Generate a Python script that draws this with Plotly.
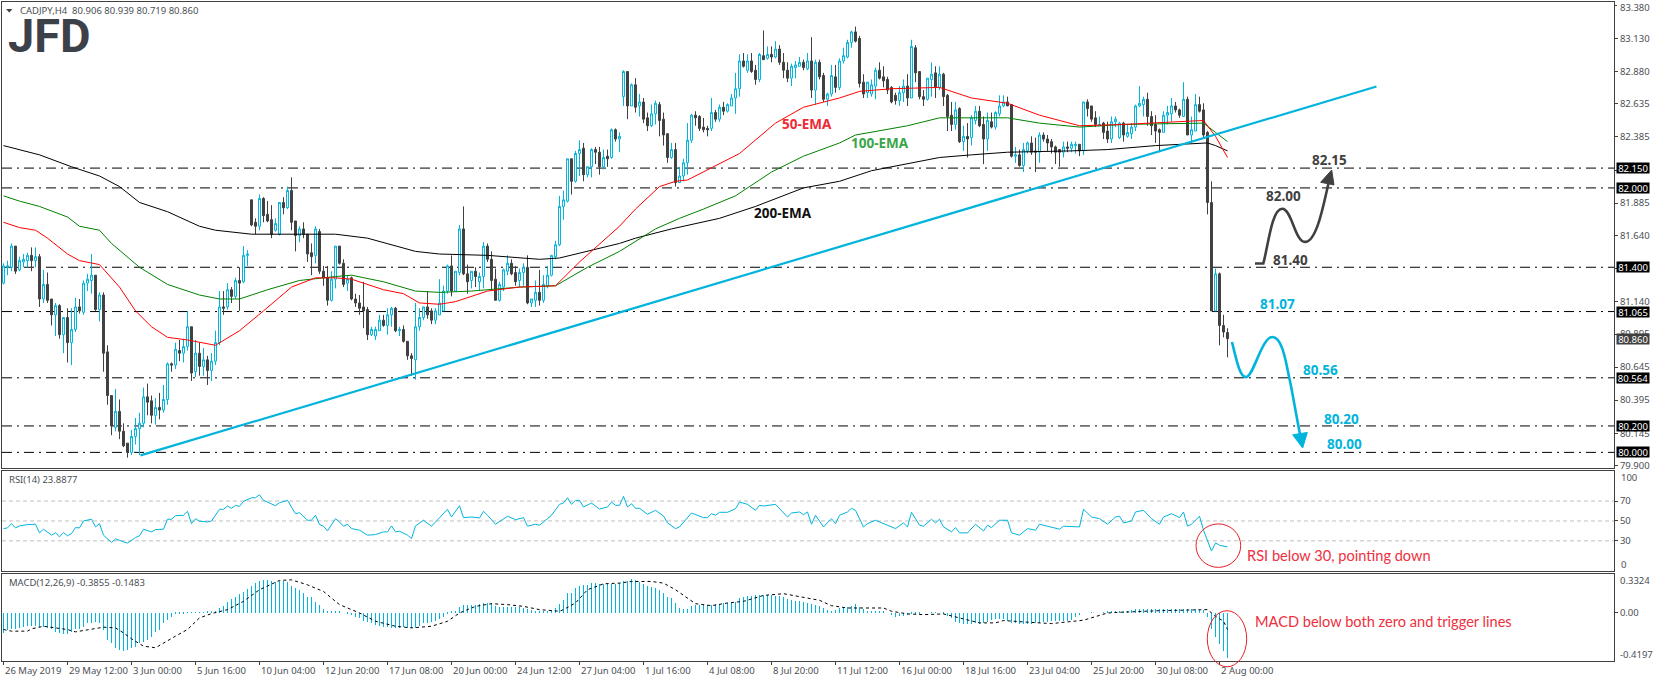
import plotly.graph_objects as go

W, H = 1655, 686
CYAN = "#00B4DC"
DARK = "#404040"
RED = "#E8202A"
TXT = "#4a4f55"
FONT = "Noto Sans"

open_ = [81.28,81.40,81.40,81.56,81.38,81.44,81.45,81.49,81.45,81.48,
81.16,81.27,81.16,81.04,81.11,80.89,81.02,80.83,80.93,81.10,
81.06,81.28,81.30,81.34,81.08,81.19,80.76,80.43,80.19,80.31,
80.16,80.07,80.00,80.12,80.18,80.22,80.42,80.39,80.28,80.34,
80.32,80.40,80.67,80.66,80.77,80.75,80.80,80.95,80.61,80.75,
80.65,80.70,80.62,80.69,80.83,81.10,81.10,81.23,81.18,81.30,
81.29,81.49,81.91,81.74,81.71,81.92,81.80,81.76,81.68,81.65,
81.89,81.85,81.98,81.75,81.64,81.69,81.65,81.51,81.49,81.67,
81.37,81.32,81.15,81.31,81.56,81.43,81.28,81.32,81.16,81.13,
81.10,81.08,80.89,80.88,80.92,81.00,80.96,81.04,81.09,80.92,
80.93,80.84,80.73,80.70,80.95,81.02,81.10,81.07,81.00,81.04,
81.07,81.22,81.41,81.22,81.36,81.69,81.35,81.30,81.37,81.29,
81.33,81.56,81.46,81.31,81.15,81.25,81.37,81.43,81.36,81.30,
81.36,81.40,81.13,81.15,81.21,81.15,81.26,81.34,81.48,81.57,
81.86,81.90,82.22,82.05,82.26,82.30,82.10,82.16,82.29,82.27,
82.16,82.24,82.23,82.44,82.37,82.69,82.88,82.62,82.78,82.62,
82.65,82.53,82.47,82.56,82.63,82.52,82.41,82.23,82.29,82.04,
82.09,82.19,82.36,82.55,82.54,82.46,82.45,82.45,82.57,82.52,
82.61,82.58,82.62,82.68,82.75,82.96,82.89,82.96,82.89,82.82,
83.00,82.98,83.01,82.99,83.05,82.95,82.89,82.83,82.91,82.92,
82.95,82.90,82.96,82.74,82.95,82.85,82.67,82.71,82.84,82.76,
82.96,82.99,83.10,83.18,83.13,82.80,82.72,82.71,82.77,82.89,
82.84,82.82,82.76,82.70,82.66,82.72,82.77,82.68,83.06,82.88,
82.69,82.67,82.82,82.87,82.76,82.86,82.70,82.55,82.48,82.60,
82.35,82.39,82.38,82.51,82.58,82.48,82.37,82.50,82.46,82.56,
82.62,82.65,82.63,82.24,82.25,82.17,82.28,82.34,82.28,82.27,
82.40,82.37,82.35,82.31,82.29,82.27,82.31,82.30,82.32,82.33,
82.28,82.65,82.62,82.53,82.47,82.49,82.43,82.37,82.50,82.38,
82.49,82.39,82.41,82.46,82.62,82.63,82.67,82.54,82.48,82.44,
82.42,82.55,82.56,82.62,82.59,82.54,82.67,82.40,82.43,82.63,
82.59,82.42,81.89,81.07,81.35,80.96,80.906]

high = [81.43,81.45,81.58,81.56,81.48,81.50,81.51,81.55,81.55,81.50,
81.38,81.36,81.16,81.13,81.12,81.02,81.09,81.09,81.17,81.16,
81.30,81.35,81.50,81.34,81.21,81.21,80.81,80.43,80.48,80.40,
80.22,80.07,80.17,80.26,80.30,80.49,80.52,80.43,80.41,80.45,
80.51,80.68,80.68,80.83,80.85,80.86,81.07,80.95,80.85,80.83,
80.79,80.73,80.75,80.92,81.22,81.22,81.28,81.25,81.32,81.40,
81.56,81.53,81.91,81.77,81.95,81.93,81.90,81.87,81.77,81.89,
81.93,82.01,82.08,81.75,81.71,81.74,81.65,81.58,81.71,81.69,
81.41,81.41,81.37,81.56,81.56,81.46,81.34,81.33,81.20,81.19,
81.29,81.10,80.95,80.95,81.04,81.04,81.09,81.10,81.10,80.95,
80.96,80.84,80.75,81.13,81.09,81.10,81.22,81.09,81.09,81.31,
81.26,81.42,81.49,81.37,81.72,81.86,81.42,81.37,81.40,81.36,
81.59,81.58,81.52,81.39,81.29,81.39,81.49,81.46,81.41,81.39,
81.43,81.49,81.16,81.30,81.38,81.34,81.41,81.49,81.60,81.94,
81.98,82.22,82.22,82.28,82.36,82.34,82.16,82.30,82.31,82.31,
82.29,82.29,82.45,82.45,82.42,82.89,82.88,82.79,82.83,82.71,
82.68,82.57,82.63,82.66,82.65,82.57,82.41,82.34,82.34,82.16,
82.22,82.49,82.56,82.58,82.55,82.53,82.47,82.68,82.59,82.63,
82.65,82.64,82.71,82.87,83.01,83.02,83.01,83.02,82.93,83.02,
83.19,83.07,83.07,83.11,83.08,83.02,82.95,82.94,82.96,82.99,
82.97,83.02,83.14,82.97,82.97,82.87,82.72,82.93,82.93,82.98,
83.06,83.12,83.19,83.22,83.15,82.86,82.80,82.82,82.91,82.95,
82.92,82.84,82.77,82.72,82.77,82.82,82.86,83.12,83.08,82.88,
82.74,82.83,82.95,82.92,82.92,82.87,82.71,82.65,82.65,82.61,
82.47,82.49,82.55,82.62,82.62,82.54,82.57,82.57,82.58,82.70,
82.70,82.69,82.63,82.31,82.29,82.34,82.35,82.39,82.38,82.42,
82.42,82.40,82.37,82.32,82.29,82.35,82.35,82.35,82.35,82.33,
82.65,82.67,82.62,82.58,82.54,82.50,82.50,82.54,82.54,82.50,
82.50,82.48,82.49,82.63,82.77,82.69,82.72,82.58,82.55,82.45,
82.58,82.62,82.68,82.65,82.60,82.80,82.69,82.54,82.71,82.69,
82.64,82.43,82.05,81.39,81.36,81.04,80.939]

low = [81.27,81.34,81.37,81.35,81.37,81.40,81.40,81.37,81.40,81.10,
81.13,81.13,80.96,80.88,80.86,80.75,80.68,80.66,80.91,81.05,
81.04,81.22,81.20,81.07,80.99,80.61,80.36,80.13,80.16,80.10,
80.04,79.96,79.98,80.06,79.98,80.19,80.28,80.22,80.21,80.25,
80.30,80.36,80.61,80.63,80.69,80.68,80.77,80.54,80.57,80.58,
80.58,80.51,80.54,80.66,80.81,81.04,81.08,81.13,81.16,81.07,
81.28,81.41,81.71,81.65,81.68,81.74,81.74,81.62,81.67,81.64,
81.80,81.84,81.68,81.52,81.59,81.62,81.44,81.34,81.43,81.35,
81.26,81.11,81.14,81.24,81.42,81.25,81.22,81.15,81.10,81.04,
80.94,80.85,80.88,80.85,80.92,80.95,80.89,80.95,80.91,80.88,
80.83,80.70,80.58,80.55,80.92,81.00,81.01,80.97,80.97,81.04,
81.07,81.20,81.18,81.22,81.34,81.34,81.20,81.24,81.25,81.22,
81.24,81.44,81.22,81.15,81.14,81.22,81.34,81.34,81.26,81.25,
81.26,81.12,81.10,81.10,81.11,81.13,81.24,81.33,81.46,81.56,
81.76,81.89,81.95,82.04,82.09,82.05,82.08,82.08,82.18,82.10,
82.14,82.16,82.22,82.35,82.27,82.62,82.52,82.62,82.57,82.54,
82.49,82.43,82.46,82.48,82.39,82.32,82.19,82.22,82.01,82.04,
82.05,82.10,82.34,82.47,82.43,82.42,82.39,82.43,82.50,82.50,
82.55,82.57,82.62,82.56,82.69,82.91,82.87,82.87,82.78,82.80,
82.97,82.97,82.95,82.98,82.93,82.83,82.80,82.77,82.83,82.92,
82.89,82.89,82.68,82.63,82.82,82.65,82.62,82.69,82.72,82.74,
82.94,82.98,83.06,83.10,82.76,82.68,82.68,82.69,82.67,82.82,
82.76,82.71,82.64,82.63,82.62,82.65,82.62,82.68,82.80,82.67,
82.62,82.66,82.69,82.68,82.74,82.62,82.43,82.43,82.44,82.34,
82.28,82.23,82.32,82.48,82.46,82.18,82.28,82.45,82.44,82.54,
82.61,82.62,82.23,82.19,82.16,82.12,82.26,82.25,82.12,82.19,
82.35,82.28,82.26,82.18,82.16,82.23,82.27,82.27,82.26,82.24,
82.25,82.54,82.50,82.46,82.47,82.37,82.34,82.34,82.46,82.37,
82.35,82.38,82.37,82.43,82.61,82.54,82.47,82.40,82.34,82.27,
82.42,82.48,82.50,82.57,82.53,82.54,82.40,82.34,82.43,82.57,
82.38,81.80,81.07,81.07,80.81,80.87,80.719]

close = [81.41,81.41,81.56,81.37,81.45,81.46,81.49,81.45,81.48,81.16,
81.27,81.15,81.04,81.11,80.89,81.02,80.83,80.93,81.10,81.07,
81.28,81.31,81.34,81.08,81.19,80.75,80.43,80.20,80.31,80.16,
80.05,80.00,80.12,80.18,80.22,80.42,80.38,80.28,80.34,80.32,
80.40,80.67,80.66,80.78,80.75,80.80,80.95,80.60,80.75,80.65,
80.70,80.62,80.69,80.83,81.10,81.09,81.23,81.18,81.30,81.28,
81.49,81.50,81.72,81.71,81.92,81.79,81.75,81.65,81.73,81.89,
81.85,81.98,81.74,81.64,81.69,81.65,81.50,81.48,81.69,81.37,
81.32,81.15,81.31,81.56,81.43,81.27,81.31,81.16,81.13,81.09,
81.07,80.89,80.93,80.93,81.00,80.96,81.04,81.09,80.92,80.93,
80.84,80.73,80.71,80.95,81.02,81.10,81.04,81.00,81.07,81.13,
81.22,81.41,81.22,81.37,81.69,81.35,81.29,81.37,81.33,81.33,
81.56,81.46,81.30,81.15,81.27,81.38,81.43,81.35,81.29,81.36,
81.40,81.13,81.16,81.21,81.15,81.27,81.34,81.49,81.57,81.86,
81.91,82.22,82.05,82.26,82.29,82.10,82.16,82.29,82.27,82.16,
82.23,82.22,82.44,82.37,82.39,82.88,82.62,82.78,82.61,82.65,
82.52,82.47,82.56,82.64,82.51,82.40,82.23,82.29,82.04,82.09,
82.19,82.36,82.55,82.53,82.45,82.44,82.44,82.57,82.52,82.61,
82.58,82.63,82.68,82.75,82.96,82.92,82.96,82.88,82.82,83.01,
82.97,83.01,82.99,83.05,82.95,82.89,82.83,82.92,82.93,82.95,
82.91,82.96,82.74,82.95,82.84,82.67,82.71,82.85,82.76,82.96,
83.00,83.10,83.18,83.11,82.79,82.71,82.80,82.78,82.89,82.83,
82.81,82.74,82.65,82.66,82.72,82.77,82.68,83.07,82.87,82.69,
82.67,82.83,82.86,82.76,82.86,82.69,82.54,82.48,82.59,82.35,
82.39,82.37,82.53,82.58,82.47,82.37,82.51,82.46,82.57,82.62,
82.65,82.62,82.24,82.25,82.17,82.29,82.34,82.27,82.27,82.40,
82.37,82.34,82.31,82.27,82.27,82.31,82.30,82.33,82.33,82.28,
82.65,82.60,82.52,82.48,82.48,82.42,82.37,82.50,82.52,82.49,
82.40,82.42,82.46,82.62,82.64,82.67,82.54,82.47,82.43,82.42,
82.55,82.57,82.62,82.59,82.55,82.67,82.40,82.44,82.63,82.58,
82.40,81.89,81.07,81.35,80.96,80.91,80.860]

ema200_idx = [0,9,17,24,29,34,41,49,53,62,83,91,103,109,121,134,139,146,154,158,167,179,188,200,209,217,226,234,242,251,267,276,288,301,303,306]
ema200 = [82.32,82.25,82.16,82.09,82.01,81.89,81.82,81.71,81.68,81.65,81.65,81.62,81.52,81.50,81.49,81.46,81.47,81.52,81.58,81.62,81.69,81.77,81.86,82.00,82.05,82.13,82.18,82.23,82.25,82.27,82.28,82.29,82.32,82.34,82.32,82.28]
ema100_idx = [0,4,9,16,19,24,27,34,41,49,54,59,66,74,83,87,95,103,109,117,129,138,146,154,163,169,175,183,192,200,209,213,226,234,242,251,259,269,280,293,300,303,306]
ema100 = [81.94,81.90,81.86,81.78,81.71,81.68,81.58,81.40,81.27,81.19,81.16,81.16,81.23,81.30,81.33,81.34,81.29,81.22,81.21,81.22,81.25,81.26,81.40,81.52,81.69,81.77,81.84,81.94,82.12,82.24,82.34,82.40,82.47,82.53,82.53,82.53,82.49,82.46,82.48,82.49,82.49,82.42,82.35]
ema50_idx = [0,4,8,11,16,19,24,29,33,37,41,46,53,59,65,72,78,83,87,95,100,104,109,113,121,129,138,144,154,158,164,168,171,184,193,200,209,214,222,234,242,251,259,269,280,293,300,303,306]
ema50 = [81.74,81.70,81.68,81.62,81.50,81.45,81.42,81.25,81.07,80.95,80.87,80.85,80.81,80.92,81.07,81.25,81.32,81.32,81.31,81.23,81.20,81.13,81.12,81.14,81.22,81.25,81.26,81.44,81.71,81.84,82.01,82.05,82.06,82.26,82.49,82.61,82.68,82.73,82.75,82.76,82.68,82.64,82.55,82.47,82.48,82.50,82.51,82.39,82.23]

trend_idx = [34.25, 343.25]
trend_val = [79.977, 82.767]
levels = [82.15, 82.00, 81.40, 81.065, 80.564, 80.20, 80.00]
level_labels = ["82.150", "82.000", "81.400", "81.065", "80.564", "80.200", "80.000"]
last_price = 80.860

rsi_idx = [0,1,2,3,4,5,6,8,9,10,11,12,13,14,15,16,17,18,19,20,22,23,24,25,27,28,30,31,33,34,35,37,38,40,41,42,43,45,46,47,48,49,51,52,54,55,56,57,58,59,60,62,63,64,65,66,68,69,71,73,74,76,77,78,79,80,81,83,84,85,86,87,89,91,93,95,96,97,98,99,101,102,103,105,107,109,111,112,114,115,117,119,120,121,123,126,128,130,131,133,134,136,137,139,140,141,142,143,144,145,147,149,151,152,153,154,155,156,157,158,159,161,163,165,166,168,169,172,175,176,177,178,179,181,183,184,186,188,189,190,193,196,197,199,200,201,202,203,205,207,208,209,211,212,213,215,216,218,223,225,226,227,229,230,232,233,234,235,237,238,239,241,243,245,246,247,249,251,252,254,256,258,259,264,265,269,270,272,274,276,278,279,280,282,283,285,287,289,290,292,294,295,296,297,299,300,301,302,303,304,306]
rsi = [42.3,43,47.3,43,45,45.7,46.3,46.7,38,41.7,39,35.7,38,34,38.3,35,37.3,43.3,43,50,51.7,44,47.3,35.7,28.3,32,29,27.7,33.3,35,41.7,39,41.3,41.7,51.7,51.7,55.3,55.7,59.7,47.3,52.3,49.7,49,50,61.7,61.7,65,62.7,65.7,64.7,69.7,73.3,73.3,76.3,70.7,69,65.3,68.3,70.7,57.3,58.3,50.7,50.7,55.7,46.3,44.7,40,52.3,49,44.7,46.7,42.3,40.7,35.7,36.3,39,39,45,39,39.7,35.7,32.3,45,50.7,44.7,53.3,61.7,54,65.3,53.3,54,53,59.7,55.7,46.7,54.7,51.3,53.3,44.7,46.7,45.7,52.3,55.7,66.7,68,73.3,66.7,70.7,70.7,64,68,62,64,69,65.7,65.7,74.7,64,67.3,62.7,62.7,56.7,60.7,55,48,42.3,44,58,53.3,53.3,57.3,55.7,58.7,58.7,62.3,69,66.7,60.7,65.7,65,66.7,54,58,59,56.3,59,46.7,55.7,44,52.3,47.3,55.7,59,62.7,60.7,44,47.3,50.7,42.3,48,44,58.7,45.7,44.7,51.7,48,51.7,44,39,43.3,38,38,46.7,40,45.7,43.3,50.7,50.7,38,35.7,42.3,40.7,46.7,41.7,44.7,44,61.7,54,52.3,46.7,54,54.7,48,50,59,60.7,52.3,46.7,54,57.3,53.3,59,44.7,46.7,54.7,40.7,30,19.7,28,25.5,23.89]
rsi_levels = [70, 50, 30]

macd_hist = [-.177,-.148,-.142,-.142,-.134,-.125,-.114,-.111,-.111,-.120,
-.120,-.134,-.140,-.168,-.177,-.185,-.185,-.162,-.142,-.140,
-.120,-.091,-.091,-.077,-.091,-.148,-.239,-.262,-.305,-.325,
-.333,-.325,-.305,-.291,-.262,-.248,-.234,-.205,-.168,-.148,
-.091,-.063,-.034,-.011,-.006,-.003,.001,.002,.003,.004,
.005,.006,.008,.012,.037,.057,.094,.114,.131,.157,
.180,.200,.228,.251,.274,.285,.285,.274,.265,.271,
.274,.265,.228,.208,.194,.165,.137,.131,.094,.066,
.029,.017,.017,.011,.006,.000,-.006,-.020,-.034,-.048,
-.068,-.077,-.091,-.105,-.114,-.120,-.120,-.128,-.128,-.128,
-.125,-.134,-.134,-.128,-.114,-.091,-.086,-.077,-.068,-.057,
-.034,-.011,.006,.017,.051,.066,.066,.066,.066,.074,
.080,.085,.080,.057,.051,.051,.051,.051,.051,.046,
.040,.029,.023,.014,.011,.017,.017,.023,.037,.074,
.108,.165,.171,.208,.231,.237,.242,.251,.251,.245,
.245,.245,.245,.245,.251,.274,.274,.291,.285,.265,
.245,.228,.222,.208,.194,.171,.131,.123,.080,.037,
.034,.034,.057,.063,.066,.066,.066,.066,.074,.074,
.080,.080,.085,.094,.123,.137,.142,.142,.148,.154,
.154,.151,.151,.145,.142,.131,.114,.108,.100,.100,
.094,.080,.071,.066,.057,.037,.023,.017,.023,.037,
.051,.051,.060,.071,.051,.029,.017,.014,.009,.009,
.006,.000,-.023,-.034,-.026,-.029,-.020,-.011,-.006,-.006,
.000,.000,.003,.003,.000,-.011,-.029,-.048,-.077,-.091,
-.097,-.097,-.097,-.091,-.097,-.086,-.077,-.063,-.057,-.051,
-.057,-.068,-.086,-.091,-.097,-.097,-.097,-.097,-.091,-.086,
-.080,-.080,-.074,-.074,-.068,-.068,-.068,-.063,-.040,-.020,
.000,.000,.003,.000,.000,.003,.006,.009,.011,.014,
.017,.017,.023,.028,.031,.028,.034,.028,.031,.028,
.031,.031,.028,.031,.028,.034,.031,.028,.028,.025,
.020,-.040,-.142,-.205,-.270,-.333,-.3855]
signal_idx = [0,2,6,7,10,13,16,18,22,25,28,30,32,35,38,40,43,46,49,52,56,60,64,69,72,76,80,84,89,93,98,102,107,111,114,118,122,126,130,134,139,140,143,146,150,154,157,162,165,168,171,173,177,181,185,190,195,199,204,207,211,220,222,226,230,235,239,244,248,250,256,262,270,272,276,279,284,289,301,303,305,306]
signal = [-.148,-.162,-.162,-.142,-.12,-.134,-.148,-.168,-.148,-.128,-.134,-.177,-.228,-.291,-.305,-.262,-.205,-.148,-.048,-.011,.023,.094,.194,.274,.279,.236,.179,.066,-.006,-.077,-.12,-.134,-.12,-.077,-.006,.051,.074,.066,.051,.023,.009,.023,.08,.194,.245,.251,.265,.265,.251,.194,.123,.074,.057,.08,.094,.145,.16,.137,.103,.057,.037,.037,.009,-.014,-.02,-.014,-.048,-.091,-.091,-.071,-.085,-.097,-.068,-.048,-.006,0,.009,.014,.023,-.034,-.077,-.1483]

price_ticks = [83.13,82.88,82.635,82.385,82.135,81.885,81.64,81.39,81.14,80.895,80.645,80.395,80.145,79.90]
date_idx = [i * 16 for i in range(20)]
date_labels = ["26 May 2019","29 May 12:00","3 Jun 00:00","5 Jun 16:00","10 Jun 04:00","12 Jun 20:00","17 Jun 08:00","20 Jun 00:00","24 Jun 12:00","27 Jun 04:00","1 Jul 16:00","4 Jul 08:00","8 Jul 20:00","11 Jul 12:00","16 Jul 00:00","18 Jul 16:00","23 Jul 04:00","25 Jul 20:00","30 Jul 08:00","2 Aug 00:00"]

assert len(open_) == len(high) == len(low) == len(close) == len(macd_hist) == 307
assert len(rsi_idx) == len(rsi) and len(signal_idx) == len(signal)
assert len(ema50_idx) == len(ema50) and len(ema100_idx) == len(ema100) and len(ema200_idx) == len(ema200)

bars = list(range(307))
def px(x): return x / W
def py(y): return 1 - y / H

fig = go.Figure()
fig.add_trace(go.Candlestick(x=bars, open=open_, high=high, low=low, close=close, xaxis="x", yaxis="y",
    increasing=dict(line=dict(color=CYAN, width=1), fillcolor="white"),
    decreasing=dict(line=dict(color=DARK, width=1), fillcolor=DARK),
    whiskerwidth=0, showlegend=False, hoverinfo="skip"))
for ix, vals, col in [(ema200_idx, ema200, "#000000"), (ema100_idx, ema100, "#008000"), (ema50_idx, ema50, "#FF0000")]:
    fig.add_trace(go.Scatter(x=ix, y=vals, mode="lines", line=dict(color=col, width=1), xaxis="x", yaxis="y", showlegend=False, hoverinfo="skip"))
fig.add_trace(go.Scatter(x=trend_idx, y=trend_val, mode="lines", line=dict(color=CYAN, width=2.2), xaxis="x", yaxis="y", showlegend=False, hoverinfo="skip"))
fig.add_trace(go.Scatter(x=rsi_idx, y=rsi, mode="lines", line=dict(color=CYAN, width=1), xaxis="x2", yaxis="y2", showlegend=False, hoverinfo="skip"))
fig.add_trace(go.Bar(x=bars, y=macd_hist, marker=dict(color=CYAN, line=dict(width=0)), width=0.25, xaxis="x3", yaxis="y3", showlegend=False, hoverinfo="skip"))
fig.add_trace(go.Scatter(x=signal_idx, y=signal, mode="lines", line=dict(color="#000000", width=1, dash="3px,3px"), xaxis="x3", yaxis="y3", showlegend=False, hoverinfo="skip"))

# bar i is centred on pixel column 3.5 + 4*i
xr = [(2 - 3.5) / 4, (1614 - 3.5) / 4]
xdom = [px(2), px(1614)]
frame = dict(showline=True, linecolor=DARK, linewidth=1, mirror=True, showgrid=False, zeroline=False)
tickf = dict(family=FONT, size=9.5, color=TXT)
xbase = dict(domain=xdom, range=xr, **frame)
yfont = dict(side="right", ticks="outside", ticklen=3, tickcolor=DARK, tickfont=tickf, **frame)

shapes = []
for lv in levels:
    shapes.append(dict(type="line", xref="x", yref="y", x0=xr[0], x1=xr[1], y0=lv, y1=lv, layer="below",
                       line=dict(color="#000000", width=1, dash="10px,5px,2px,5px")))
for lv in rsi_levels:
    shapes.append(dict(type="line", xref="x2", yref="y2", x0=xr[0], x1=xr[1], y0=lv, y1=lv, layer="below",
                       line=dict(color="#C0C0C0", width=1, dash="4px,3px")))

def z(x, y):
    return f"{px(1120 + x / 3):.5f} {py(90 + y / 3):.5f}"
def curve(pts):
    return "M " + z(*pts[0]) + " " + " ".join(seg[0] + " " + " ".join(z(*p) for p in seg[1:]) for seg in pts[1:])

dark_path = curve([(405, 525), ("L", (430, 525)), ("C", (445, 470), (455, 360), (487, 360)),
                   ("C", (515, 360), (525, 460), (555, 460)), ("C", (590, 460), (610, 350), (625, 285))])
cyan_path = curve([(336, 762), ("C", (350, 820), (360, 868), (378, 868)), ("C", (400, 868), (425, 747), (457, 747)),
                   ("C", (490, 747), (500, 840), (510, 880)), ("C", (520, 930), (530, 990), (540, 1040))])
for pth, col in [(dark_path, DARK), (cyan_path, CYAN)]:
    shapes.append(dict(type="path", xref="paper", yref="paper", path=pth, line=dict(color=col, width=2.6), fillcolor="rgba(0,0,0,0)"))
shapes.append(dict(type="path", xref="paper", yref="paper", path=f"M {z(635,243)} L {z(602,280)} L {z(642,288)} Z", fillcolor=DARK, line=dict(color=DARK, width=1)))
shapes.append(dict(type="path", xref="paper", yref="paper", path=f"M {z(548,1082)} L {z(518,1042)} L {z(562,1035)} Z", fillcolor=CYAN, line=dict(color=CYAN, width=1)))
shapes.append(dict(type="circle", xref="paper", yref="paper", x0=px(1196), x1=px(1240.7), y0=py(527), y1=py(570.7), line=dict(color=RED, width=1)))
shapes.append(dict(type="circle", xref="paper", yref="paper", x0=px(1207.3), x1=px(1246.7), y0=py(614.3), y1=py(670.7), line=dict(color=RED, width=1)))
# small drop-down triangle left of the chart caption
shapes.append(dict(type="path", xref="paper", yref="paper",
                   path=f"M {px(6):.5f} {py(9):.5f} L {px(12.5):.5f} {py(9):.5f} L {px(9.25):.5f} {py(12.5):.5f} Z",
                   fillcolor=DARK, line=dict(width=0)))
# top price tick mark, drawn separately so its label can sit at the top edge
shapes.append(dict(type="line", xref="paper", yref="y", x0=px(1614), x1=px(1617), y0=83.38, y1=83.38, line=dict(color=DARK, width=1)))

ann = []
def text(x, y, s, color=TXT, size=9.5, family=FONT, anchor="left", bold=False):
    ann.append(dict(xref="paper", yref="paper", x=px(x), y=py(y), text=f"<b>{s}</b>" if bold else s, showarrow=False,
                    xanchor=anchor, yanchor="middle", font=dict(family=family, size=size, color=color)))

text(17.5, 10.5, "CADJPY,H4  80.906 80.939 80.719 80.860")
text(5.5, 35.5, "JFD", color="#3c4048", size=47, family="Roboto", bold=True)
text(7, 482.5, "RSI(14) 23.8877")
text(7, 586, "MACD(12,26,9) -0.3855 -0.1483")
text(1618, 7.5, "83.380")

for s, x, y, col in [("50-EMA", 807, 125, "#EE2A35"), ("100-EMA", 880, 144, "#3AA648"), ("200-EMA", 783, 214, "#101010")]:
    text(x, y, s, color=col, size=13.5, anchor="center", bold=True)
for s, x, y, col in [("82.15", 1329, 161, DARK), ("82.00", 1283, 197, DARK), ("81.40", 1290, 262, DARK),
                     ("81.07", 1277, 306, CYAN), ("80.56", 1320, 372, CYAN), ("80.20", 1341, 421, CYAN), ("80.00", 1344, 447, CYAN)]:
    text(x, y, s, color=col, size=13.5, anchor="center", bold=True)
text(1245, 559, "RSI below 30, pointing down", color="#EE3040", size=14.6, family="Lato")
text(1253, 625, "MACD below both zero and trigger lines", color="#EE3040", size=14.6, family="Lato")

for lab, idx in zip(date_labels, date_idx):
    ann.append(dict(xref="x3", yref="paper", x=idx, y=py(674), text=lab, showarrow=False, xanchor="left", yanchor="middle", xshift=-1,
                    font=dict(family=FONT, size=9.5, color=TXT)))
for lab, lv in zip(level_labels, levels):
    ann.append(dict(xref="paper", yref="y", x=px(1616), y=lv, text=lab, showarrow=False, xanchor="left", yanchor="middle",
                    bgcolor="#000000", width=32, height=10, borderpad=0, align="center", font=dict(family=FONT, size=9.5, color="white")))
ann.append(dict(xref="paper", yref="y", x=px(1616), y=last_price, text="80.860", showarrow=False, xanchor="left", yanchor="middle",
                bgcolor=DARK, width=32, height=10, borderpad=0, align="center", font=dict(family=FONT, size=9.5, color="white")))
text(1619, 480, "100"); text(1619, 568, "0")
text(1618, 584, "0.3324"); text(1618, 658.5, "-0.4197")

fig.update_layout(
    width=W, height=H, margin=dict(l=0, r=0, t=0, b=0), paper_bgcolor="white", plot_bgcolor="white",
    bargap=0, showlegend=False,
    xaxis=dict(anchor="y", rangeslider=dict(visible=False), showticklabels=False, ticks="", **xbase),
    xaxis2=dict(anchor="y2", showticklabels=False, ticks="", **xbase),
    xaxis3=dict(anchor="y3", showticklabels=False, ticks="outside", ticklen=3, tickcolor=DARK, tickmode="array", tickvals=date_idx, **xbase),
    yaxis=dict(anchor="x", domain=[py(471), py(2)], range=[79.880, 83.406], tickmode="array", tickvals=price_ticks,
               ticktext=[f"{v:.3f}" for v in price_ticks], **yfont),
    yaxis2=dict(anchor="x2", domain=[py(574), py(473.5)], range=[0, 100.5], tickmode="array", tickvals=rsi_levels,
                ticktext=[str(v) for v in rsi_levels], **yfont),
    yaxis3=dict(anchor="x3", domain=[py(665), py(577)], range=[-0.4197, 0.3324], tickmode="array", tickvals=[0], ticktext=["0.00"], **yfont),
    shapes=shapes, annotations=ann,
)
fig.write_html("out.html", config={"displayModeBar": False},
               post_script="document.body.style.margin='0';document.body.style.overflow='hidden';")
